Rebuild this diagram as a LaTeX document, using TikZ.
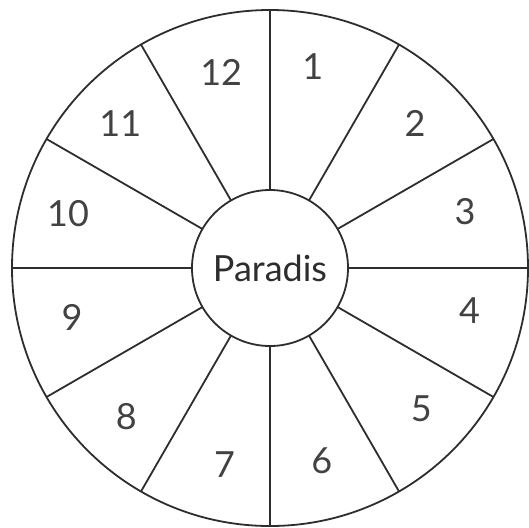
\documentclass[tikz,border=0pt]{standalone}
\usepackage{fontspec}
\setmainfont{Lato}
\usetikzlibrary{positioning}
\definecolor{ink}{RGB}{45,45,45}
\tikzset{
  every picture/.style={font=\fontsize{18}{21}\selectfont},
  ring/.style={draw=ink,circle,line width=0.9pt,inner sep=0pt,outer sep=0pt},
  spoke/.style={draw=ink,line width=0.9pt},
  num/.style={text=ink!90},
}

\begin{document}
\begin{tikzpicture}[x=0.5pt,y=0.5pt]
  \useasboundingbox (-270,-259) rectangle (259,268);
  \node[ring,minimum size=258pt] (rim) at (0,0) {};
  \node[ring,minimum size=78pt,text=ink] (paradis) at (0,0) {Paradis};
  % twelve spokes, rim to centre
  \foreach \a in {0,30,...,330}{
    \draw[spoke] (paradis.\a) -- (rim.\a);
  }
  % sector numbers, clockwise from the top
  \foreach \ang/\r [count=\i] in {78/206,45/205,16/203,-12/204,-43/207,-75/200,
      -103/202,-134/207,-166/204,165/209,136/208,104/202}{
    \node[num] (s\i) at (\ang:\r) {\i};
  }
\end{tikzpicture}
\end{document}
